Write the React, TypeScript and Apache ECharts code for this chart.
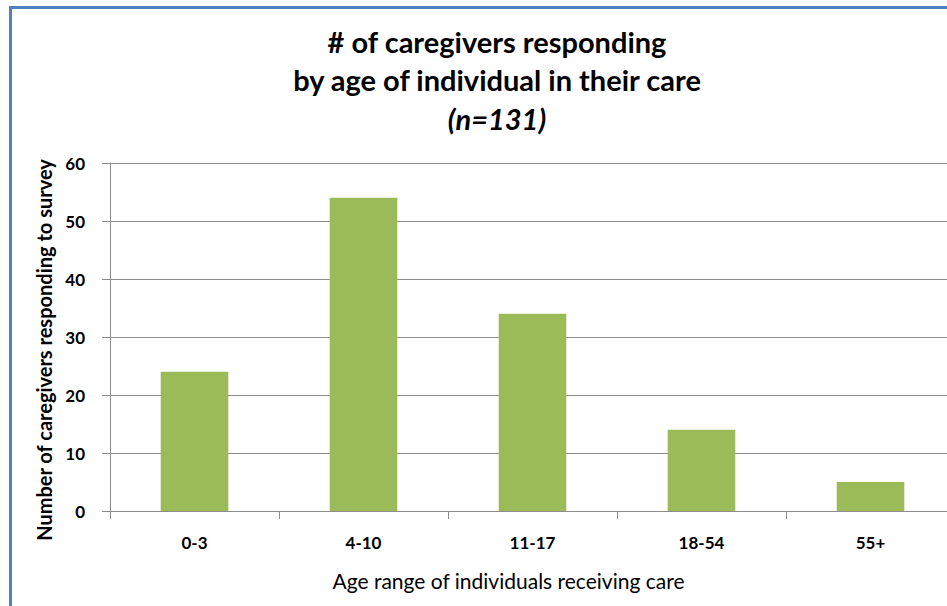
import React, { useEffect, useRef } from "react";
import * as echarts from "echarts";

const categories = ["0-3", "4-10", "11-17", "18-54", "55+"];
const caregiverCounts = [24, 54, 34, 14, 5];
const yTicks = { min: 0, max: 60, interval: 10 };
const titleLines = ["# of caregivers responding", "by age of individual in their care", "(n=131)"];
const xAxisName = "Age range of individuals receiving care";
const yAxisName = "Number of caregivers responding to survey";

const FONT = "Lato, 'Open Sans', sans-serif";

export default function App() {
  const ref = useRef<HTMLDivElement>(null);
  useEffect(() => {
    if (!ref.current) return;
    const chart = echarts.init(ref.current, undefined, { renderer: "svg" });
    chart.setOption({
      animation: false,
      backgroundColor: "#ffffff",
      title: {
        text: `${titleLines[0]}\n${titleLines[1]}\n{i|${titleLines[2]}}`,
        left: 492,
        textAlign: "center",
        top: 17,
        textStyle: {
          fontFamily: FONT,
          fontWeight: "bold",
          fontSize: 29,
          lineHeight: 38.5,
          color: "#000000",
          rich: {
            i: {
              fontFamily: FONT,
              fontWeight: "bold",
              fontStyle: "italic",
              fontSize: 29,
              lineHeight: 38.5,
              color: "#000000",
            },
          },
        },
      },
      graphic: [
        {
          type: "rect",
          shape: { x: 10.5, y: 7.5, width: 1000, height: 1000 },
          style: { fill: "none", stroke: "#4F81BD", lineWidth: 3 },
          silent: true,
        },
      ],
      grid: {
        left: 110,
        top: 163,
        width: 845,
        height: 348,
        outerBoundsMode: "none",
        containLabel: false,
      },
      xAxis: {
        type: "category",
        data: categories,
        name: xAxisName,
        nameLocation: "middle",
        nameGap: 59,
        nameTextStyle: {
          fontFamily: FONT,
          fontSize: 21,
          color: "#000000",
          padding: [0, 48, 0, 0],
        },
        axisLine: { lineStyle: { color: "#8c8c8c", width: 1 } },
        axisTick: { show: true, length: 8, alignWithLabel: false, lineStyle: { color: "#8c8c8c" } },
        axisLabel: {
          fontFamily: FONT,
          fontWeight: "bold",
          fontSize: 17,
          color: "#000000",
          margin: 23,
        },
        splitLine: { show: false },
      },
      yAxis: {
        type: "value",
        min: yTicks.min,
        max: yTicks.max,
        interval: yTicks.interval,
        name: yAxisName,
        nameLocation: "middle",
        nameGap: 55,
        nameTextStyle: {
          fontFamily: FONT,
          fontWeight: "bold",
          fontSize: 20,
          color: "#000000",
          padding: [0, 26, 0, 0],
        },
        axisLine: { show: true, lineStyle: { color: "#8c8c8c", width: 1 } },
        axisTick: { show: true, length: 8, inside: false, lineStyle: { color: "#8c8c8c" } },
        axisLabel: {
          fontFamily: FONT,
          fontWeight: "bold",
          fontSize: 17,
          color: "#000000",
          margin: 25,
        },
        splitLine: { show: true, lineStyle: { color: "#8c8c8c", width: 1 } },
      },
      series: [
        {
          type: "bar",
          data: caregiverCounts,
          barWidth: "40%",
          itemStyle: { color: "#9BBB59" },
        },
      ],
    });
    return () => chart.dispose();
  }, []);
  return (
    <div
      ref={ref}
      style={{ position: "fixed", left: 0, top: 0, width: 947, height: 606 }}
    />
  );
}
